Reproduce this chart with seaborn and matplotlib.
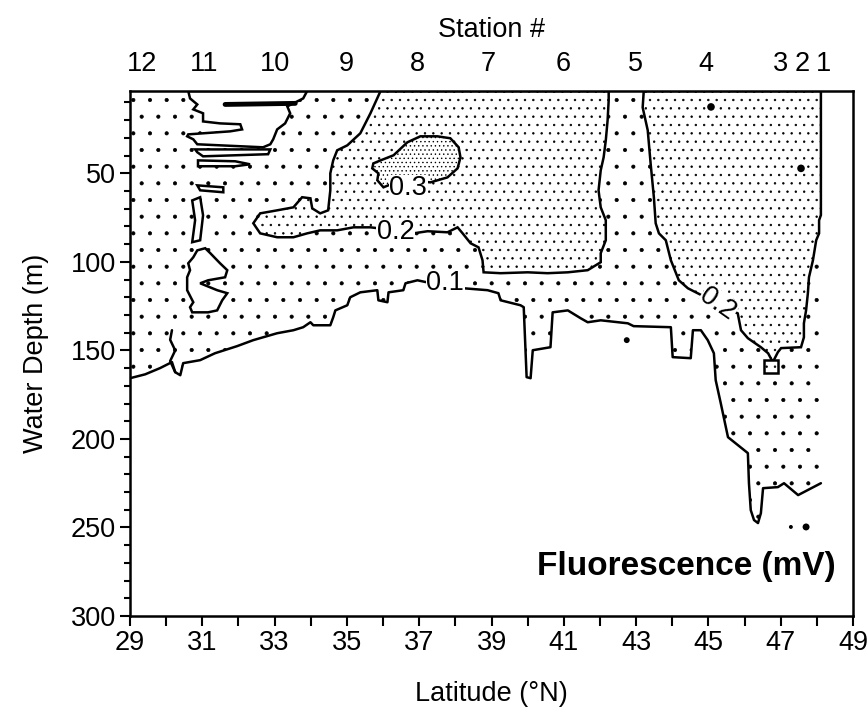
import numpy as np
import pandas as pd
import matplotlib
matplotlib.use("Agg")
import matplotlib.pyplot as plt
import seaborn as sns

# Contour outlines, as (latitude °N, depth m) pairs
top_depth = 3.5
edge_lat = 48.11

contour_01 = [(29.0, 165.7), (29.42, 163.5), (29.83, 160.0), (30.16, 156.6), (30.25, 162.3),
              (30.39, 164.0), (30.47, 157.2), (30.94, 155.5), (31.35, 151.6), (31.96, 147.6),
              (32.41, 144.2), (32.68, 142.6), (33.07, 140.3), (33.52, 138.6), (33.79, 136.9),
              (33.99, 134.1), (34.07, 135.8), (34.54, 135.8), (34.62, 131.3), (34.68, 127.4),
              (35.01, 124.5), (35.09, 120.0), (35.37, 117.2), (35.84, 116.0), (35.87, 121.7),
              (36.12, 122.8), (36.15, 117.2), (36.56, 116.0), (36.62, 112.1), (36.95, 110.4),
              (37.59, 113.2), (38.22, 114.9), (38.89, 116.0), (39.19, 117.7), (39.25, 121.7),
              (39.80, 124.5), (39.89, 125.6), (39.97, 165.1), (40.08, 165.7), (40.14, 149.9),
              (40.63, 148.2), (40.69, 128.5), (41.11, 127.4), (41.47, 131.9), (41.66, 134.1),
              (42.02, 133.0), (42.77, 134.7), (42.93, 136.3), (43.96, 136.9), (44.01, 153.8),
              (44.51, 154.4), (44.57, 138.6), (44.79, 138.6), (44.98, 144.2), (45.15, 151.6),
              (45.20, 166.8), (45.34, 179.8), (45.54, 199.0), (46.09, 208.0), (46.12, 225.0),
              (46.17, 240.2), (46.26, 245.8), (46.37, 247.5), (46.45, 241.9), (46.51, 227.8),
              (46.92, 227.2), (47.09, 225.0), (47.48, 231.7), (48.11, 225.0)]

contour_02_west = [(35.93, 3.5), (35.65, 16.1), (35.37, 27.4), (35.01, 34.2), (34.73, 37.0),
                   (34.62, 42.7), (34.54, 50.0), (34.54, 59.6), (34.48, 70.9), (34.26, 72.6),
                   (34.04, 69.8), (33.99, 64.1), (33.76, 63.5), (33.52, 69.2), (33.07, 70.9),
                   (32.60, 72.6), (32.41, 78.2), (32.60, 83.9), (33.07, 86.1), (33.52, 86.1),
                   (33.90, 83.9), (34.26, 82.2), (34.73, 82.2), (35.18, 80.5), (35.65, 80.5),
                   (36.34, 82.2), (36.84, 83.9), (37.23, 82.7), (37.78, 83.3), (38.06, 80.5),
                   (38.20, 83.9), (38.42, 89.5), (38.64, 91.8), (38.75, 99.1), (38.78, 105.9),
                   (39.25, 106.4), (40.00, 105.9), (40.55, 106.4), (41.11, 105.9), (41.66, 104.7),
                   (42.02, 100.2), (42.02, 95.1), (42.16, 87.8), (42.16, 76.5), (42.02, 69.2),
                   (41.96, 59.6), (42.02, 48.3), (42.10, 41.0), (42.16, 31.4), (42.21, 20.1),
                   (42.24, 8.8), (42.24, 3.5)]

contour_02_east = [(43.21, 3.5), (43.18, 12.8), (43.32, 25.7), (43.40, 44.4), (43.49, 63.5),
                   (43.54, 78.2), (43.63, 83.9), (43.82, 87.8), (43.96, 99.1), (44.18, 110.4),
                   (44.43, 114.9), (44.65, 117.2), (45.26, 123.4), (45.81, 129.1), (45.90, 138.6),
                   (46.09, 143.1), (46.45, 148.2), (46.65, 151.6), (46.78, 156.6), (46.92, 151.0),
                   (47.01, 148.7), (47.56, 148.2), (47.64, 142.6), (47.64, 134.7), (47.70, 127.4),
                   (47.75, 117.7), (47.78, 108.7), (47.89, 99.1), (47.98, 87.8), (48.06, 83.9),
                   (48.06, 76.5), (48.11, 73.6), (48.11, 3.5)]

contour_02_box = [(46.53, 155.5), (46.92, 155.5), (46.92, 162.9), (46.53, 162.9)]

contour_03 = [(35.73, 44.4), (35.93, 42.7), (36.29, 39.8), (36.67, 32.5), (37.03, 29.1),
              (37.50, 29.1), (37.86, 30.2), (38.09, 35.3), (38.14, 41.0), (38.06, 47.2),
              (37.78, 52.3), (37.31, 55.1), (36.67, 53.9), (36.29, 55.6), (36.01, 57.9),
              (35.84, 53.9), (35.87, 50.0), (35.70, 47.2)]

# patches below 0.1 mV inside the upper layer
low_patch_1 = [(30.61, 3.5), (33.90, 3.5), (33.79, 7.7), (33.35, 12.2), (33.43, 16.1),
               (33.29, 21.8), (33.07, 25.2), (32.96, 30.8), (32.88, 33.6), (32.68, 35.3),
               (30.86, 33.6), (30.75, 30.8), (30.58, 29.1), (30.61, 28.0), (31.02, 27.4),
               (31.77, 26.3), (32.10, 25.2), (32.05, 22.3), (31.49, 21.8), (31.02, 20.7),
               (31.02, 16.1), (30.75, 13.9), (30.86, 11.1), (30.66, 7.7)]
low_patch_2 = [(30.80, 36.5), (32.88, 36.5), (32.82, 39.2), (31.02, 40.4), (30.86, 38.1)]
low_patch_3 = [(30.88, 42.7), (31.91, 43.2), (32.32, 44.9), (31.91, 46.0), (30.88, 46.0)]
low_patch_4 = [(30.86, 56.8), (31.58, 57.9), (31.58, 60.7), (30.94, 59.6)]
low_patch_5 = [(30.72, 65.3), (30.94, 63.5), (31.02, 73.7), (30.94, 87.8), (30.72, 88.9),
               (30.80, 76.5)]
low_patch_6 = [(30.86, 93.5), (31.08, 92.3), (31.22, 95.1), (31.49, 100.8), (31.69, 104.7),
               (31.63, 108.7), (31.16, 110.4), (30.94, 112.1), (31.41, 116.0), (31.69, 117.7),
               (31.55, 121.7), (31.41, 127.4), (31.16, 128.5), (30.72, 128.5), (30.66, 125.6),
               (30.75, 122.8), (30.58, 116.0), (30.58, 108.7), (30.66, 104.7), (30.61, 100.8),
               (30.75, 97.4)]
low_finger = [(31.63, 11.1), (33.57, 10.5)]
low_streak = [(30.16, 138.6), (30.11, 144.0), (30.25, 150.0), (30.11, 156.0), (30.25, 162.3)]

# isolated specks
speck_lat = [45.07, 47.56, 42.74, 47.28, 47.70]
speck_depth = [12.5, 47.2, 144.2, 249.7, 249.7]
speck_size = [30, 30, 18, 8, 25]

contour_labels = ["0.1", "0.2", "0.2", "0.3"]
label_lat = [37.72, 36.34, 45.26, 36.70]
label_depth = [112.1, 83.0, 124.0, 58.5]
label_rot = [0, 0, -35, 0]

station_ids = ["12", "11", "10", "9", "8", "7", "6", "5", "4", "3", "2", "1"]
station_lat = [29.33, 31.05, 33.0, 34.98, 36.94, 38.9, 40.97, 42.99, 44.93, 46.98, 47.6, 48.17]

sns.set_style("ticks")
plt.rcParams['font.family'] = ['Liberation Sans', 'DejaVu Sans']
plt.rcParams['hatch.linewidth'] = 0.5
plt.rcParams['hatch.color'] = 'black'
for key in ['text.color', 'axes.labelcolor', 'xtick.color', 'ytick.color', 'axes.edgecolor']:
    plt.rcParams[key] = 'black'

FS = 19.5
LW = 1.8

fig = plt.figure(figsize=(8.68, 7.13), dpi=100)
ax = fig.add_axes([0.1498, 0.136, 0.833, 0.7364])


def fill_poly(points, hatch, lw=LW):
    pts = np.array(points)
    ax.fill(pts[:, 0], pts[:, 1], facecolor='white', edgecolor='black',
            hatch=hatch, linewidth=lw, zorder=2)


# 0.1 - 0.2 layer: everything above the 0.1 contour
upper = np.array([(29.0, top_depth), (edge_lat, top_depth)] + contour_01[::-1])
ax.fill(upper[:, 0], upper[:, 1], facecolor='white', edgecolor='black', hatch='.',
        linewidth=0, zorder=1)
c01 = pd.DataFrame(contour_01, columns=['lat', 'depth'])
sns.lineplot(data=c01, x='lat', y='depth', sort=False, estimator=None, color='black',
             linewidth=LW, ax=ax, zorder=3)

for patch in [low_patch_1, low_patch_2, low_patch_3, low_patch_4, low_patch_5, low_patch_6]:
    fill_poly(patch, None)
fin = np.array(low_finger)
ax.plot(fin[:, 0], fin[:, 1], color='black', linewidth=3.5, zorder=3, solid_capstyle='round')
stk = np.array(low_streak)
ax.plot(stk[:, 0], stk[:, 1], color='black', linewidth=LW, zorder=3)

# 0.2 - 0.3 and >0.3
for poly in [contour_02_west, contour_02_east, contour_02_box]:
    fill_poly(poly, '..')
fill_poly(contour_03, '....')

sns.scatterplot(x=speck_lat, y=speck_depth, s=speck_size, color='black', marker='o',
                edgecolor='none', ax=ax, zorder=4, legend=False)

for txt, lx, ly, rot in zip(contour_labels, label_lat, label_depth, label_rot):
    ax.text(lx, ly, txt, fontsize=FS, ha='center', va='center', rotation=rot, zorder=5,
            bbox=dict(facecolor='white', edgecolor='none', pad=0.3))

fig.text(836 / 868, 1 - 566 / 713, "Fluorescence (mV)", ha='right', va='center',
         fontsize=24, fontweight='bold', zorder=6)

ax.set_xlim(29, 49)
ax.set_ylim(300, top_depth)
ax.set_xticks(np.arange(29, 50, 2))
ax.set_xticks(np.arange(29, 50, 1), minor=True)
ax.set_yticks(np.arange(50, 301, 50))
ax.set_yticks(np.arange(10, 301, 10), minor=True)
ax.tick_params(axis='both', which='major', labelsize=FS, length=7, width=1.5, direction='out')
ax.tick_params(axis='x', which='major', pad=3)
ax.tick_params(axis='y', which='major', pad=3)
ax.tick_params(axis='x', which='minor', length=7, width=1.5, direction='out')
ax.tick_params(axis='y', which='minor', length=4, width=1.5, direction='out')
ax.set_xlabel("Latitude (°N)", fontsize=FS, labelpad=18)
ax.set_ylabel("Water Depth (m)", fontsize=FS, labelpad=16)
for sp in ax.spines.values():
    sp.set_visible(True)
    sp.set_linewidth(1.8)

top = ax.twiny()
top.set_xlim(ax.get_xlim())
top.set_xticks(station_lat)
top.set_xticklabels(station_ids)
top.tick_params(axis='x', length=0, labelsize=FS, pad=10)
top.set_xlabel("Station #", fontsize=FS, labelpad=10)
for sp in top.spines.values():
    sp.set_visible(False)

fig.savefig("out.png", dpi=100)
